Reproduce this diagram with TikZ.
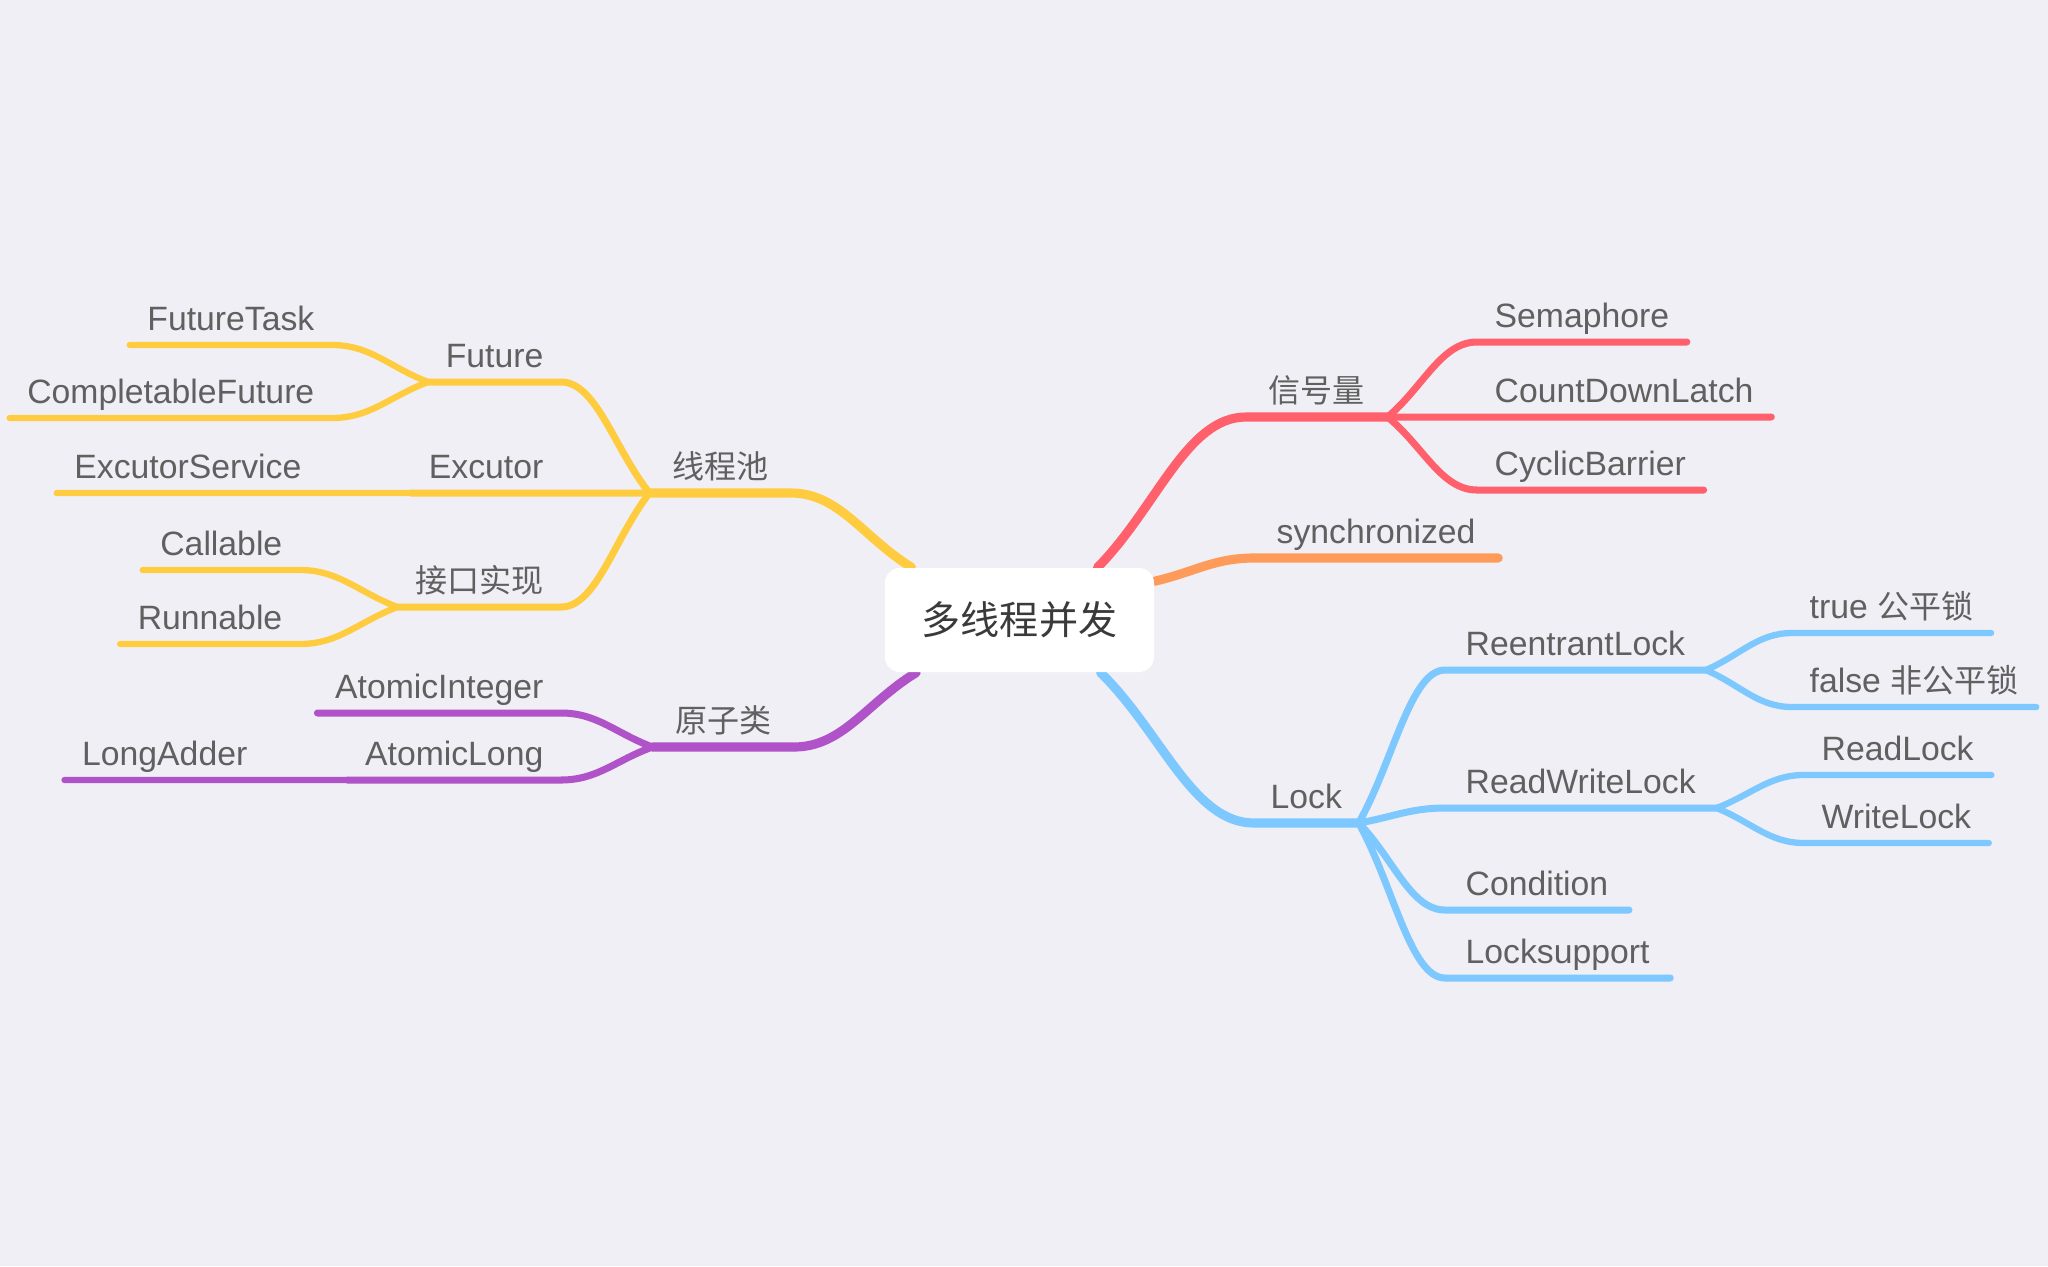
\documentclass[tikz,border=0pt]{standalone}
\usepackage{fontspec}
\setmainfont{Liberation Sans}
\newfontfamily\cjk{Noto Sans CJK SC}[Scale=0.95]
\usetikzlibrary{calc}

\definecolor{paper}{RGB}{239,239,245}
\definecolor{label}{RGB}{96,96,96}
\definecolor{hubtext}{RGB}{58,58,58}
\definecolor{poolcol}{RGB}{255,204,64}
\definecolor{signalcol}{RGB}{255,96,108}
\definecolor{synccol}{RGB}{255,155,90}
\definecolor{atomcol}{RGB}{176,82,200}
\definecolor{lockcol}{RGB}{124,200,255}

\pgfdeclarelayer{wires}
\pgfsetlayers{wires,main}

\begin{document}
\begin{tikzpicture}[
  every node/.style={text=label, font=\fontsize{9.6pt}{12pt}\selectfont},
  topic/.style={inner xsep=0.17cm, inner ysep=0.14cm, text depth=0pt},
  maintopic/.style={topic, inner xsep=0.22cm},
  hubbox/.style={rounded corners=0.15cm, fill=white, minimum width=2.69cm,
    minimum height=1.04cm, inner sep=0pt, text=hubtext,
    font=\fontsize{11.7pt}{14pt}\cjk},
  trunk/.style={line width=2.6pt, line cap=round},
  limb/.style={line width=2pt, line cap=round},
  twig/.style={line width=1.8pt, line cap=round},
  sway/.style={to path={.. controls ($(\tikztostart)!0.4!(\tikztotarget)$)
    and ($(\tikztostart|-\tikztotarget)!0.6!(\tikztotarget)$) .. (\tikztotarget)}}
]
\useasboundingbox (0,0) rectangle (20.48,-12.66);

\node[hubbox] (hub) at (10.195,-6.20) {多线程并发};

% left side
\node[maintopic, anchor=south east] (pool) at (7.91,-4.93) {\cjk 线程池};
\node[topic, anchor=south east] (future) at (5.61,-3.82) {Future};
\node[topic, anchor=south east] (excutor) at (5.61,-4.93) {Excutor};
\node[topic, anchor=south east] (iface) at (5.61,-6.07) {\cjk 接口实现};
\node[topic, anchor=south east] (ftask) at (3.32,-3.45) {FutureTask};
\node[topic, anchor=south east] (cfuture) at (3.32,-4.18) {CompletableFuture};
\node[topic, anchor=south east] (exsvc) at (3.19,-4.93) {ExcutorService};
\node[topic, anchor=south east] (callable) at (3.00,-5.70) {Callable};
\node[topic, anchor=south east] (runnable) at (3.00,-6.44) {Runnable};
\node[maintopic, anchor=south east] (atomic) at (7.94,-7.47) {\cjk 原子类};
\node[topic, anchor=south east] (aint) at (5.61,-7.13) {AtomicInteger};
\node[topic, anchor=south east] (along) at (5.61,-7.80) {AtomicLong};
\node[topic, anchor=south east] (ladder) at (2.65,-7.80) {LongAdder};

% right side
\node[maintopic, anchor=south west] (signal) at (12.46,-4.17) {\cjk 信号量};
\node[topic, anchor=south west] (sema) at (14.77,-3.42) {Semaphore};
\node[topic, anchor=south west] (latch) at (14.77,-4.17) {CountDownLatch};
\node[topic, anchor=south west] (barrier) at (14.77,-4.90) {CyclicBarrier};
\node[maintopic, anchor=south west] (sync) at (12.54,-5.58) {synchronized};
\node[maintopic, anchor=south west, inner xsep=0.16cm] (lock) at (12.54,-8.23) {Lock};
\node[topic, anchor=south west, inner xsep=0.2cm] (relock) at (14.45,-6.70) {ReentrantLock};
\node[topic, anchor=south west, inner xsep=0.2cm] (rwlock) at (14.45,-8.08) {ReadWriteLock};
\node[topic, anchor=south west, inner xsep=0.2cm] (cond) at (14.45,-9.10) {Condition};
\node[topic, anchor=south west, inner xsep=0.2cm] (lsup) at (14.45,-9.78) {Locksupport};
\node[topic, anchor=south west] (fair) at (17.92,-6.33) {true {\cjk 公平锁}};
\node[topic, anchor=south west] (unfair) at (17.92,-7.07) {false {\cjk 非公平锁}};
\node[topic, anchor=south west] (rdlock) at (18.04,-7.75) {ReadLock};
\node[topic, anchor=south west] (wrlock) at (18.04,-8.43) {WriteLock};

\begin{pgfonlayer}{wires}
\fill[paper] (0,0) rectangle (20.48,-12.66);

% thread pool
\draw[trunk, poolcol] (hub.154) to[sway] (pool.south east) -- (pool.south west);
\draw[limb, poolcol] (pool.south west) to[sway] (future.south east) -- (future.south west);
\draw[limb, poolcol] (pool.south west) to[sway] (excutor.south east) -- (excutor.south west);
\draw[limb, poolcol] (pool.south west) to[sway] (iface.south east) -- (iface.south west);
\draw[twig, poolcol] (future.south west) to[sway] (ftask.south east) -- (ftask.south west);
\draw[twig, poolcol] (future.south west) to[sway] (cfuture.south east) -- (cfuture.south west);
\draw[twig, poolcol] (excutor.south west) to[sway] (exsvc.south east) -- (exsvc.south west);
\draw[twig, poolcol] (iface.south west) to[sway] (callable.south east) -- (callable.south west);
\draw[twig, poolcol] (iface.south west) to[sway] (runnable.south east) -- (runnable.south west);

% atomic classes
\draw[trunk, atomcol] (hub.207) to[sway] (atomic.south east) -- (atomic.south west);
\draw[limb, atomcol] (atomic.south west) to[sway] (aint.south east) -- (aint.south west);
\draw[limb, atomcol] (atomic.south west) to[sway] (along.south east) -- (along.south west);
\draw[twig, atomcol] (along.south west) to[sway] (ladder.south east) -- (ladder.south west);

% semaphore
\draw[trunk, signalcol] (hub.34) to[sway] (signal.south west) -- (signal.south east);
\draw[limb, signalcol] (signal.south east) to[sway] (sema.south west) -- (sema.south east);
\draw[limb, signalcol] (signal.south east) to[sway] (latch.south west) -- (latch.south east);
\draw[limb, signalcol] (signal.south east) to[sway] (barrier.south west) -- (barrier.south east);

% synchronized
\draw[trunk, synccol] (hub.16) to[sway] (sync.south west) -- (sync.south east);

% lock
\draw[trunk, lockcol] (hub.327) to[sway] (lock.south west) -- (lock.south east);
\draw[limb, lockcol] (lock.south east) to[sway] (relock.south west) -- (relock.south east);
\draw[limb, lockcol] (lock.south east) to[sway] (rwlock.south west) -- (rwlock.south east);
\draw[limb, lockcol] (lock.south east) to[sway] (cond.south west) -- (cond.south east);
\draw[limb, lockcol] (lock.south east) to[sway] (lsup.south west) -- (lsup.south east);
\draw[twig, lockcol] (relock.south east) to[sway] (fair.south west) -- (fair.south east);
\draw[twig, lockcol] (relock.south east) to[sway] (unfair.south west) -- (unfair.south east);
\draw[twig, lockcol] (rwlock.south east) to[sway] (rdlock.south west) -- (rdlock.south east);
\draw[twig, lockcol] (rwlock.south east) to[sway] (wrlock.south west) -- (wrlock.south east);
\end{pgfonlayer}
\end{tikzpicture}
\end{document}
